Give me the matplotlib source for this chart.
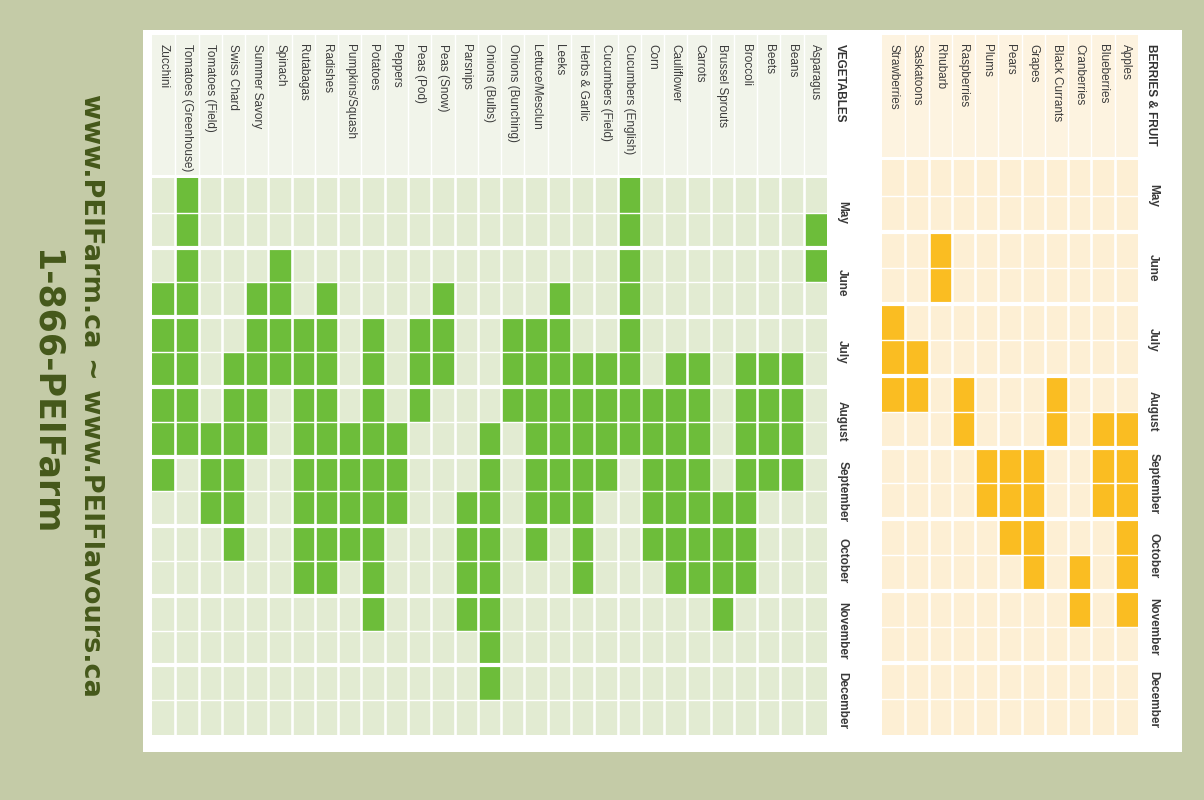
import matplotlib
matplotlib.use("Agg")
import matplotlib.pyplot as plt
from matplotlib.patches import Rectangle
from matplotlib.transforms import blended_transform_factory

# ---------------- data ----------------
months = ["May", "June", "July", "August", "September", "October", "November", "December"]

fruit_names = ["Apples", "Blueberries", "Cranberries", "Black Currants", "Grapes", "Pears",
               "Plums", "Raspberries", "Rhubarb", "Saskatoons", "Strawberries"]
# half-month index: 0 = first half of May ... 15 = second half of December (inclusive)
fruit_start = [7, 7, 11, 6, 8, 8, 8, 6, 2, 5, 4]
fruit_end = [12, 9, 12, 7, 11, 10, 9, 7, 3, 6, 6]

veg_names = ["Asparagus", "Beans", "Beets", "Broccoli", "Brussel Sprouts", "Carrots",
             "Cauliflower", "Corn", "Cucumbers (English)", "Cucumbers (Field)",
             "Herbs & Garlic", "Leeks", "Lettuce/Mesclun", "Onions (Bunching)",
             "Onions (Bulbs)", "Parsnips", "Peas (Snow)", "Peas (Pod)", "Peppers",
             "Potatoes", "Pumpkins/Squash", "Radishes", "Rutabagas", "Spinach",
             "Summer Savory", "Swiss Chard", "Tomatoes (Field)", "Tomatoes (Greenhouse)",
             "Zucchini"]
veg_start = [1, 5, 5, 5, 9, 5, 5, 6, 0, 5, 5, 3, 4, 4, 7, 9, 3, 4, 7, 4, 7, 3, 4, 2, 3, 5, 7, 0, 3]
veg_end = [2, 8, 8, 11, 12, 11, 11, 10, 7, 8, 11, 9, 10, 6, 14, 12, 5, 6, 9, 12, 10, 11, 11, 5, 7, 10, 9, 7, 8]

fruit_title = "BERRIES & FRUIT"
veg_title = "VEGETABLES"
footer_line1 = "www.PEIFarm.ca ~ www.PEIFlavours.ca"
footer_line2 = "1-866-PEIFarm"

# ---------------- style ----------------
W, H = 1204, 800
BG = "#c4cba7"
TEXT_GREEN = "#45581a"
LABEL_FONT = ["Liberation Sans", "DejaVu Sans"]
N_HALF = 2 * len(months)

fig = plt.figure(figsize=(W / 100, H / 100), dpi=100)
fig.patch.set_facecolor(BG)

def fx(px):
    return px / W

def fy(py):
    return 1 - py / H

# white card
fig.add_artist(Rectangle((fx(143), fy(752)), fx(1182) - fx(143), fy(30) - fy(752),
                         transform=fig.transFigure, facecolor="white", edgecolor="none", zorder=0))


def draw_panel(box, names, starts, ends, on_col, off_col, head_col, title, header_top):
    left, top, right, bottom = box
    ax = fig.add_axes([fx(left), fy(bottom), fx(right) - fx(left), fy(top) - fy(bottom)])
    n = len(names)
    ax.set_xlim(n - 0.5, -0.5)          # first crop on the right
    ax.set_ylim(N_HALF - 0.5, -0.5)     # May at the top
    ax.axis("off")

    trans_hdr = blended_transform_factory(ax.transData, fig.transFigure)
    # header background stripes (one per crop column)
    for i in range(n):
        ax.add_patch(Rectangle((i - 0.5, fy(top - 3)), 1, fy(header_top) - fy(top - 3),
                               transform=trans_hdr, facecolor=head_col, edgecolor="none",
                               clip_on=False, zorder=0))
    for i in range(n - 1):
        ax.plot([i + 0.5, i + 0.5], [fy(top - 3), fy(header_top)], transform=trans_hdr,
                color="white", lw=1.0, clip_on=False, zorder=0.5)

    # cells
    for i in range(n):
        for h in range(N_HALF):
            filled = starts[i] <= h <= ends[i]
            ax.add_patch(Rectangle((i - 0.5, h - 0.5), 1, 1,
                                   facecolor=on_col if filled else off_col,
                                   edgecolor="none", zorder=1))
    # separators
    for i in range(n - 1):
        ax.axvline(i + 0.5, color="white", lw=1.9, zorder=3)
    for h in range(1, N_HALF):
        ax.axhline(h - 0.5, color="white", lw=3.0 if h % 2 == 0 else 1.0, zorder=3)

    # crop labels (rotated, reading top to bottom)
    for i, name in enumerate(names):
        ax.text(i, fy(44), name, transform=trans_hdr, rotation=-90, rotation_mode="anchor",
                ha="left", va="center", fontsize=8.5, color="#3c3c3c", family=LABEL_FONT,
                clip_on=False, zorder=4)
    ax.text(-1.05, fy(44), title, transform=trans_hdr, rotation=-90, rotation_mode="anchor",
            ha="left", va="center", fontsize=8.5, fontweight="bold", color="#333333",
            family=LABEL_FONT, clip_on=False, zorder=4)
    # month labels
    for m, mon in enumerate(months):
        ax.text(-1.15, 2 * m + 0.5, mon, rotation=-90, ha="center", va="center",
                fontsize=8.5, fontweight="bold", color="#3a3a3a", family=LABEL_FONT,
                clip_on=False, zorder=4)
    return ax


draw_panel((882, 160, 1138, 735), fruit_names, fruit_start, fruit_end,
           "#fabd22", "#fdefd4", "#fdf3e0", fruit_title, 35)
draw_panel((152, 178, 827, 735), veg_names, veg_start, veg_end,
           "#6dbd3a", "#e2ebd2", "#f1f4ea", veg_title, 35)

# footer text on the left (rotated)
fig.text(fx(91), fy(395), footer_line1, rotation=-90, ha="center", va="center",
         fontsize=19.5, fontweight="bold", color=TEXT_GREEN, family="DejaVu Sans")
fig.text(fx(46), fy(392), footer_line2, rotation=-90, ha="center", va="center",
         fontsize=25, fontweight="bold", color=TEXT_GREEN, family="DejaVu Sans")

fig.savefig("out.png", dpi=100, facecolor=BG)
